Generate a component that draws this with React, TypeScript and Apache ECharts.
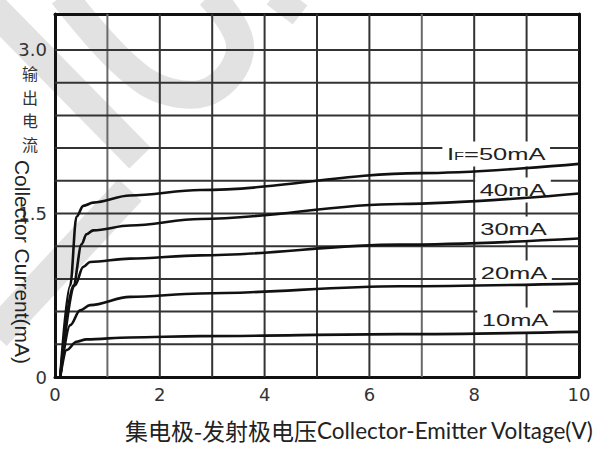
import React, { useEffect, useRef } from "react";
import * as echarts from "echarts";

// Collector current (mA) vs collector-emitter voltage (V), one curve per forward current
const curveIF50 = [[0.1, 0], [0.29, 0.84], [0.41, 1.47], [0.54, 1.57], [0.73, 1.6], [1.43, 1.665], [2.77, 1.716], [6.97, 1.87], [10, 1.955]];
const curveIF40 = [[0.1, 0], [0.35, 0.84], [0.51, 1.22], [0.6, 1.31], [0.73, 1.345], [1.43, 1.39], [2.77, 1.45], [6.58, 1.587], [10, 1.684]];
const curveIF30 = [[0.1, 0], [0.38, 0.84], [0.54, 1.01], [0.67, 1.055], [1.43, 1.086], [2.77, 1.116], [6.58, 1.214], [10, 1.27]];
const curveIF20 = [[0.1, 0], [0.29, 0.476], [0.48, 0.613], [0.67, 0.659], [1.43, 0.735], [2.77, 0.766], [6.58, 0.833], [10, 0.857]];
const curveIF10 = [[0.1, 0], [0.22, 0.247], [0.41, 0.323], [0.6, 0.345], [1.43, 0.363], [2.77, 0.375], [6.58, 0.393], [10, 0.414]];

const curves = [curveIF50, curveIF40, curveIF30, curveIF20, curveIF10];
const curveLabels = ["{i|I}{f|F}{t|=50mA}", "40mA", "30mA", "20mA", "10mA"];
const curveLabelAnchors = [[8.42, 2.046], [8.74, 1.716], [8.75, 1.358], [8.76, 0.954], [8.78, 0.523]];

const X_MIN = 0, X_MAX = 10, Y_MIN = 0, Y_MAX = 3.33;
const xGridValues = [1, 2, 3, 4, 5, 6, 7, 8, 9];
const yGridValues = [0.3, 0.6, 0.9, 1.2, 1.5, 1.8, 2.1, 2.4, 2.7, 3.0];
const xLabelValues = [0, 2, 4, 6, 8, 10];
const yLabelValues = [0, 1.5, 3.0];
const yLabelTexts = ["0", "1.5", "3.0"];

const yTitleCN = ["输", "出", "电", "流"];
const yTitleEN = "Collector Current(mA)";
const xTitleCN = "集电极-发射极电压";
const xTitleEN = "Collector-Emitter Voltage(V)";

export default function App() {
  const ref = useRef<HTMLDivElement>(null);
  useEffect(() => {
    if (!ref.current) return;
    const chart = echarts.init(ref.current, null, { renderer: "svg" });
    const border = { show: true, onZero: false, lineStyle: { color: "#111", width: 3 } };
    const gridStyle = (c: string) => ({ color: c, width: 2, type: "solid" });
    const gridSeries = [
      ...xGridValues.map((v) => ({
        type: "line", data: [[v, Y_MIN], [v, Y_MAX]], showSymbol: false, silent: true, z: 0,
        lineStyle: gridStyle(v === 1 || v === 7 ? "#6a6a6a" : "#333"),
      })),
      ...yGridValues.map((v) => ({
        type: "line", data: [[X_MIN, v], [X_MAX, v]], showSymbol: false, silent: true, z: 0,
        lineStyle: gridStyle("#333"),
      })),
    ];
    chart.setOption({
      animation: false,
      backgroundColor: "#fff",
      grid: { left: 55, right: 26, top: 14, bottom: 73 },
      xAxis: [
        {
          type: "value", min: X_MIN, max: X_MAX, interval: 1, position: "bottom",
          axisLine: border, axisTick: { show: false }, splitLine: { show: false },
          axisLabel: {
            margin: 8, fontSize: 18, fontFamily: "DejaVu Sans", color: "#333",
            formatter: (v: number) => (xLabelValues.some((t) => Math.abs(t - v) < 1e-6) ? String(Math.round(v)) : ""),
          },
        },
        {
          type: "value", min: X_MIN, max: X_MAX, position: "top",
          axisLine: border, axisTick: { show: false }, splitLine: { show: false }, axisLabel: { show: false },
        },
      ],
      yAxis: [
        {
          type: "value", min: Y_MIN, max: Y_MAX, interval: 0.3, position: "left",
          axisLine: border, axisTick: { show: false }, splitLine: { show: false },
          axisLabel: {
            margin: 8, fontSize: 18, fontFamily: "DejaVu Sans", color: "#333",
            formatter: (v: number) => {
              const i = yLabelValues.findIndex((t) => Math.abs(t - v) < 1e-6);
              return i >= 0 ? yLabelTexts[i] : "";
            },
          },
        },
        {
          type: "value", min: Y_MIN, max: Y_MAX, position: "right",
          axisLine: border, axisTick: { show: false }, splitLine: { show: false }, axisLabel: { show: false },
        },
      ],
      series: [
        ...gridSeries,
        ...curves.map((d) => ({
          type: "line", data: d, showSymbol: false, smooth: 0.35, smoothMonotone: "x",
          lineStyle: { color: "#111", width: 2.6 }, z: 3, silent: true,
        })),
      ],
    });

    const band = (points: number[][], w: number, smooth = 0) => ({
      type: "polyline", z: -10, silent: true,
      shape: { points, smooth },
      style: { stroke: "#e2e2e2", lineWidth: w, fill: "none" },
    });

    const labelGraphics = curveLabelAnchors.map((p, i) => {
      const px = chart.convertToPixel({ xAxisIndex: 0, yAxisIndex: 0 }, p) as number[];
      return {
        type: "text", x: px[0], y: px[1], scaleX: 1.5, z: 1, silent: true,
        style: {
          text: curveLabels[i], x: 0, y: 0, align: "center", verticalAlign: "middle",
          fontSize: 17, fontFamily: "Liberation Sans", fill: "#222",
          backgroundColor: "#fff", padding: [4, 3],
          rich: {
            i: { fontSize: 17, fontFamily: "Liberation Sans", fill: "#222" },
            f: { fontSize: 11, fontFamily: "Liberation Sans", fill: "#222", padding: [4, 0, 0, 0] },
            t: { fontSize: 17, fontFamily: "Liberation Sans", fill: "#222" },
          },
        },
      };
    });

    const cnTitle = yTitleCN.map((ch, i) => ({
      type: "text", x: 30, y: 65 + i * 23.5, z: 5, silent: true,
      style: { text: ch, align: "center", verticalAlign: "top", fontSize: 16, fontFamily: "Noto Sans CJK SC", fill: "#333" },
    }));

    chart.setOption({
      graphic: [
        band([[-10, 5], [140, 158]], 30),
        band([[210, -5], [240, 45], [215, 88], [170, 92], [125, 65], [63, -5]], 28, 0.4),
        band([[274, -5], [300, 15]], 24),
        band([[-5, 335], [130, 190]], 32),
        ...labelGraphics,
        ...cnTitle,
        {
          type: "text", x: 22, y: 262, rotation: -Math.PI / 2, z: 5, silent: true,
          style: {
            text: yTitleEN, align: "center", verticalAlign: "middle",
            fontSize: 21, fontFamily: "Liberation Sans", fill: "#222",
          },
        },
        {
          type: "text", x: 125, y: 430, z: 5, silent: true,
          style: {
            text: "{c|" + xTitleCN + "}{e|" + xTitleEN + "}", align: "left", verticalAlign: "middle",
            rich: {
              c: { fontSize: 23, fontFamily: "Noto Sans CJK SC", fill: "#222" },
              e: { fontSize: 22.5, fontFamily: "Lato", fill: "#222" },
            },
          },
        },
      ],
    });
    return () => chart.dispose();
  }, []);
  return <div ref={ref} style={{ position: "fixed", left: 0, top: 0, width: 605, height: 450 }} />;
}
